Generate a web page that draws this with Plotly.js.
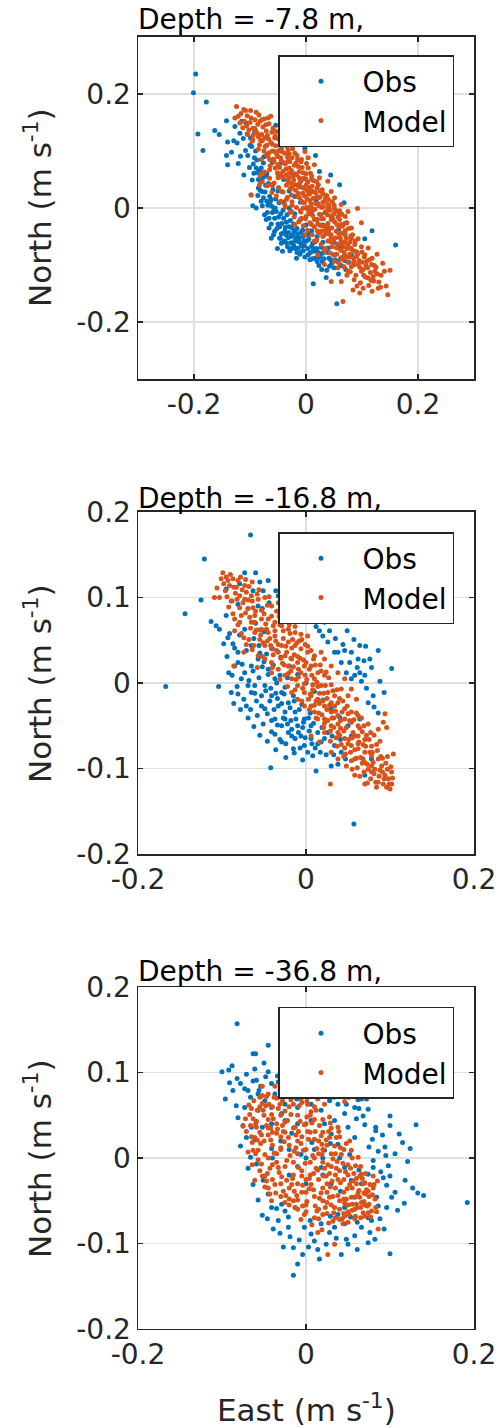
<!DOCTYPE html>
<html>
<head>
<meta charset="utf-8">
<script src="https://cdn.plot.ly/plotly-3.0.1.min.js"></script>
<style>html,body{margin:0;padding:0;background:#fff;}#chart{width:500px;height:1428px;}</style>
</head>
<body>
<div id="chart"></div>
<script>
// ---- data ----
const depthTitles = ['Depth = -7.8 m,', 'Depth = -16.8 m,', 'Depth = -36.8 m,'];
const seriesNames = ['Obs', 'Model'];
const tickVals1 = [-0.2, 0, 0.2];
const tickText1 = ['-0.2', '0', '0.2'];
const tickValsY23 = [-0.2, -0.1, 0, 0.1, 0.2];
const tickTextY23 = ['-0.2', '-0.1', '0', '0.1', '0.2'];

// Panel 1 (Depth -7.8 m): [east, north]
const obs1 = [[-0.197,0.235],[-0.201,0.202],[-0.178,0.186],[-0.193,0.130],[-0.184,0.101],[-0.163,0.136],[-0.155,0.129],[-0.142,0.153],[-0.140,0.116],[-0.142,0.092],[-0.140,0.076],[-0.121,0.078],[-0.123,0.114],[-0.127,0.143],[-0.111,0.058],[-0.096,0.049],[-0.098,0.023],[-0.095,0.004],[-0.089,0.000],[-0.074,-0.012],[-0.071,-0.020],[-0.062,-0.053],[-0.051,-0.071],[-0.042,-0.076],[-0.029,-0.075],[-0.017,-0.088],[-0.005,-0.075],[0.011,-0.089],[0.013,-0.133],[0.036,-0.122],[0.055,-0.168],[0.050,-0.105],[0.069,-0.092],[0.081,-0.082],[0.105,-0.054],[0.118,-0.040],[0.160,-0.065],[0.072,-0.026],[0.068,0.009],[0.060,0.041],[0.044,0.058],[0.024,0.064],[0.017,0.092],[-0.002,0.105],[-0.020,0.123],[-0.038,0.129],[-0.054,0.145],[-0.092,0.132],[-0.107,0.149],[-0.115,0.152],[-0.099,0.123],[-0.092,0.088],[-0.089,0.070],[-0.077,0.053],[-0.079,0.029],[-0.062,0.015],[-0.056,-0.018],[-0.038,-0.041],[-0.020,-0.058],[-0.008,-0.064],[0.015,-0.076],[0.030,-0.079],[-0.056,-0.041],[-0.047,-0.053],[-0.035,-0.061],[-0.026,-0.050],[-0.014,-0.070],[0.001,-0.058],[0.010,-0.067],[0.024,-0.087],[0.042,-0.102],
[-0.070,0.060],[-0.060,0.040],[-0.050,0.030],[-0.040,0.010],[-0.030,0.000],[-0.020,-0.010],[-0.010,-0.020],[0.000,-0.030],[0.010,-0.040],[0.020,-0.050],[0.030,-0.060],[0.040,-0.070],[-0.065,0.020],[-0.055,0.000],[-0.045,-0.010],[-0.035,-0.025],[-0.025,-0.035],[-0.015,-0.045],[-0.005,-0.050],[0.005,-0.055],[0.015,-0.060],[-0.075,0.090],[-0.080,0.070],[-0.085,0.050],[-0.090,0.100],[-0.100,0.110],[-0.105,0.130],[-0.060,0.080],[-0.050,0.060],[-0.040,0.050],[-0.030,0.030],[-0.020,0.020],[0.000,0.000],[0.020,-0.020],[0.040,-0.040],[0.050,-0.060],[0.060,-0.070],[0.030,-0.030],[0.010,-0.010],[-0.010,0.010],
[-0.068,0.005],[-0.060,-0.008],[-0.050,-0.028],[-0.044,-0.045],[-0.032,-0.052],[-0.022,-0.066],[-0.010,-0.078],[0.004,-0.082],[0.020,-0.094],[-0.080,0.012],[-0.085,0.035],[-0.072,0.040],[-0.066,-0.035],[0.058,-0.116],[0.028,-0.108],
[-0.104,0.092],[-0.101,0.071],[-0.097,0.108],[-0.093,0.061],[-0.088,0.084],[-0.086,0.022],[-0.083,0.066],[-0.081,0.047],[-0.078,0.004],[-0.076,0.079],[-0.073,0.028],[-0.071,0.056],[-0.069,-0.008],[-0.067,0.043],[-0.064,0.011],[-0.062,-0.028],[-0.059,0.032],[-0.057,-0.004],[-0.054,0.016],[-0.052,-0.036],[-0.049,-0.016],[-0.048,0.009],[-0.046,-0.053],[-0.043,-0.027],[-0.041,-0.004],[-0.039,-0.058],[-0.037,-0.034],[-0.034,-0.012],[-0.033,-0.068],[-0.031,-0.043],[-0.028,-0.022],[-0.027,-0.061],[-0.024,-0.047],[-0.022,-0.028],[-0.019,-0.071],[-0.018,-0.052],[-0.016,-0.036],[-0.013,-0.059],[-0.011,-0.081],[-0.009,-0.043],[-0.007,-0.067],[-0.004,-0.058],[-0.002,-0.086],[0.003,-0.071],[0.006,-0.046],[0.008,-0.078],[0.012,-0.062],[0.016,-0.088],[0.019,-0.071],[0.023,-0.101],[0.026,-0.082],[0.029,-0.094],[0.033,-0.072],[0.037,-0.109],[0.041,-0.088],[0.046,-0.097],[0.052,-0.091],[0.063,-0.101],[0.071,-0.108],[0.077,-0.095],[-0.118,0.131],[-0.112,0.122],[-0.108,0.101],[-0.129,0.118],[-0.133,0.098],[-0.117,0.091],
[-0.094,0.077],[-0.087,0.062],[-0.082,0.031],[-0.076,0.018],[-0.070,0.012],[-0.066,-0.018],[-0.061,0.003],[-0.058,-0.047],[-0.053,-0.006],[-0.047,-0.033],[-0.044,-0.062],[-0.040,-0.018],[-0.036,-0.047],[-0.030,-0.033],[-0.026,-0.071],[-0.021,-0.041],[-0.016,-0.078],[-0.012,-0.052],[-0.006,-0.039],[-0.003,-0.066],[0.002,-0.047],[0.007,-0.091],[0.013,-0.071],[0.018,-0.058],[0.022,-0.078],[0.027,-0.069],[0.032,-0.089],[0.039,-0.078],[0.044,-0.091],[0.049,-0.082],[0.056,-0.094],[0.062,-0.088],[-0.024,0.058],[-0.012,0.042],[0.006,0.028],[0.018,0.012],[0.034,-0.008],[0.047,-0.018],[0.058,-0.038],[-0.045,0.079]];
const mod1 = [[-0.124,0.178],[-0.111,0.173],[-0.108,0.171],[-0.121,0.161],[-0.127,0.158],[-0.110,0.152],[-0.098,0.158],[-0.089,0.168],[-0.079,0.155],[-0.068,0.158],[-0.059,0.140],[-0.071,0.135],[-0.092,0.140],[-0.104,0.129],[-0.095,0.120],[-0.083,0.111],[-0.074,0.123],[-0.056,0.123],[-0.038,0.123],[-0.026,0.117],[-0.014,0.111],[-0.002,0.099],[0.004,0.088],[-0.008,0.085],[-0.020,0.096],[-0.032,0.102],[-0.044,0.105],[-0.056,0.099],[-0.068,0.091],[-0.080,0.085],[-0.077,0.061],[-0.083,0.041],[-0.098,0.023],[-0.065,0.067],[-0.050,0.076],[-0.032,0.082],[-0.014,0.073],[0.004,0.070],[0.015,0.076],[0.024,0.053],[0.039,0.047],[0.045,0.029],[0.051,0.018],[0.063,0.006],[0.092,-0.001],[0.075,-0.006],[0.057,-0.006],[0.039,0.006],[0.021,0.018],[0.004,0.029],[-0.014,0.041],[-0.032,0.047],[-0.050,0.053],[-0.062,0.041],[-0.044,0.029],[-0.026,0.023],[-0.008,0.012],[0.010,0.000],[0.027,-0.012],[0.045,-0.020],[0.063,-0.029],[0.081,-0.035],[0.099,-0.026],[0.081,-0.053],[0.063,-0.064],[0.045,-0.053],[0.027,-0.041],[0.010,-0.029],[-0.008,-0.018],[-0.026,-0.006],[-0.038,0.006],[-0.020,-0.029],[-0.002,-0.047],[0.015,-0.058],[0.033,-0.076],[0.051,-0.082],[0.069,-0.082],[0.087,-0.076],[0.105,-0.082],[0.111,-0.070],[0.127,-0.081],[0.093,-0.099],[0.075,-0.111],[0.057,-0.105],[0.045,-0.129],[0.063,-0.129],[0.084,-0.144],[0.096,-0.149],[0.111,-0.123],[0.123,-0.111],[0.140,-0.111],[0.150,-0.109],[0.143,-0.137],[0.146,-0.152],[0.066,-0.164],[0.117,-0.099],[0.099,-0.111],[0.033,-0.099],[0.021,-0.082],
[-0.060,0.100],[-0.050,0.090],[-0.040,0.080],[-0.030,0.070],[-0.020,0.060],[-0.010,0.050],[0.000,0.040],[0.010,0.030],[0.020,0.020],[0.030,0.010],[0.040,0.000],[0.050,-0.010],[0.060,-0.020],[0.070,-0.040],[-0.070,0.110],[-0.055,0.070],[-0.045,0.060],[-0.035,0.040],[-0.025,0.035],[-0.015,0.020],[-0.005,0.000],[0.005,-0.010],[0.015,-0.020],[0.025,-0.030],[0.035,-0.045],[0.045,-0.060],[0.055,-0.070],[0.065,-0.090],[0.075,-0.095],[0.085,-0.100],[-0.065,0.085],[-0.075,0.100],[-0.085,0.125],[-0.095,0.140],[-0.100,0.150],[-0.045,0.110],[-0.030,0.095],[-0.015,0.085],[0.000,0.060],[0.010,0.050],[0.020,0.035],[0.030,0.025],[0.040,0.015],[0.050,0.005],[0.060,-0.005],[0.070,-0.015],[-0.035,0.015],[-0.025,0.005],[-0.010,-0.005],[0.000,-0.015],[0.020,-0.040],[0.030,-0.050],[0.040,-0.040],[0.060,-0.045],[0.070,-0.060],[0.080,-0.070],[0.090,-0.085],[0.100,-0.095],[0.110,-0.105],[0.120,-0.120],[0.130,-0.130],
[-0.087,0.131],[-0.081,0.119],[-0.077,0.142],[-0.073,0.108],[-0.069,0.127],[-0.066,0.097],[-0.063,0.115],[-0.061,0.133],[-0.058,0.086],[-0.054,0.109],[-0.052,0.094],[-0.049,0.121],[-0.047,0.071],[-0.045,0.088],[-0.043,0.099],[-0.041,0.064],[-0.039,0.112],[-0.037,0.077],[-0.035,0.058],[-0.033,0.089],[-0.031,0.052],[-0.029,0.081],[-0.027,0.043],[-0.026,0.066],[-0.024,0.104],[-0.022,0.049],[-0.021,0.075],[-0.019,0.031],[-0.017,0.058],[-0.016,0.092],[-0.013,0.037],[-0.012,0.064],[-0.011,0.018],[-0.009,0.047],[-0.007,0.071],[-0.006,0.026],[-0.004,0.052],[-0.003,0.009],[-0.001,0.033],[0.001,0.078],[0.002,0.016],[0.003,0.045],[0.005,-0.004],[0.006,0.024],[0.008,0.061],[0.009,0.007],[0.011,0.038],[0.012,-0.013],[0.013,0.017],[0.014,0.048],[0.016,-0.002],[0.017,0.027],[0.019,-0.021],[0.021,0.008],[0.022,0.041],[0.024,-0.011],[0.025,0.019],[0.027,-0.031],[0.028,0.001],[0.029,0.032],[0.031,-0.019],[0.033,0.012],[0.034,-0.038],[0.036,-0.006],[0.037,0.022],[0.039,-0.027],[0.041,0.004],[0.042,-0.046],[0.044,-0.014],[0.046,-0.035],[0.047,0.011],[0.049,-0.057],[0.051,-0.024],[0.052,-0.003],[0.054,-0.041],[0.056,-0.063],[0.057,-0.016],[0.059,-0.033],[0.061,-0.052],[0.062,-0.074],[0.064,-0.011],[0.066,-0.044],[0.067,-0.068],[0.069,-0.027],[0.071,-0.087],[0.072,-0.053],[0.074,-0.071],[0.076,-0.036],[0.078,-0.081],[0.079,-0.059],[0.081,-0.103],[0.083,-0.047],[0.085,-0.088],[0.087,-0.064],[0.089,-0.118],[0.091,-0.077],[0.093,-0.054],[0.095,-0.092],[0.097,-0.131],[0.099,-0.068],[0.102,-0.108],[0.104,-0.086],[0.106,-0.121],[0.108,-0.094],[0.112,-0.136],[0.115,-0.113],[0.118,-0.088],[0.121,-0.128],[0.125,-0.104],[0.129,-0.141],[0.134,-0.118],[0.137,-0.097],
[-0.116,0.166],[-0.113,0.141],[-0.105,0.162],[-0.102,0.137],[-0.099,0.171],[-0.094,0.128],[-0.091,0.155],[-0.086,0.147],[-0.084,0.163],[-0.079,0.129],[-0.075,0.156],[-0.066,0.148],[-0.063,0.161],[-0.053,0.134],[-0.046,0.129],
[-0.118,0.149],[-0.106,0.144],[-0.096,0.117],[-0.090,0.136],[-0.085,0.103],[-0.082,0.152],[-0.078,0.118],[-0.072,0.146],[-0.070,0.094],[-0.067,0.121],[-0.064,0.074],[-0.060,0.112],[-0.057,0.081],[-0.055,0.126],[-0.051,0.062],[-0.048,0.101],[-0.044,0.083],[-0.042,0.054],[-0.038,0.096],[-0.036,0.068],[-0.034,0.108],[-0.030,0.061],[-0.028,0.034],[-0.025,0.088],[-0.023,0.056],[-0.020,0.041],[-0.018,0.079],[-0.014,0.026],[-0.012,0.053],[-0.009,0.081],[-0.007,0.036],[-0.005,0.062],[-0.002,0.021],[0.000,0.051],[0.003,0.001],[0.005,0.036],[0.007,0.013],[0.010,0.056],[0.012,-0.004],[0.014,0.028],[0.017,0.008],[0.019,0.046],[0.021,-0.028],[0.023,0.004],[0.026,0.029],[0.028,-0.019],[0.031,0.002],[0.033,-0.032],[0.035,0.018],[0.038,-0.012],[0.040,-0.034],[0.043,-0.004],[0.045,-0.047],[0.048,-0.021],[0.050,0.002],[0.053,-0.052],[0.055,-0.029],[0.058,-0.044],[0.060,-0.012],[0.063,-0.058],[0.065,-0.032],[0.068,-0.077],[0.070,-0.047],[0.073,-0.026],[0.075,-0.064],[0.077,-0.086],[0.080,-0.049],[0.082,-0.073],[0.086,-0.094],[0.088,-0.058],[0.092,-0.081],[0.096,-0.104],[0.100,-0.077],[0.103,-0.118],[0.107,-0.101],[0.113,-0.091],[0.116,-0.127],[0.122,-0.101],[0.127,-0.116],[0.133,-0.139],
[-0.082,0.058],[-0.078,0.046],[-0.074,0.063],[-0.069,0.039],[-0.065,0.052],[-0.061,0.027],[-0.057,0.044],[-0.053,0.021],[-0.049,0.036],[-0.045,0.012],[-0.041,0.028],[-0.037,0.002],[-0.033,0.019],[-0.029,-0.008],[-0.025,0.011],[-0.021,-0.016],[-0.017,0.001],[-0.013,-0.024],[-0.009,-0.007],[-0.005,-0.031],[-0.001,-0.019],[0.003,-0.039],[0.007,-0.026],[0.011,-0.047],[0.015,-0.033],[0.019,-0.056],[0.023,-0.044],[0.027,-0.064],[0.031,-0.049],[0.035,-0.071],[0.039,-0.058],[0.043,-0.079],[0.047,-0.068],[0.051,-0.093],[0.055,-0.081],[0.059,-0.097],[0.064,-0.087],[0.068,-0.103],[0.073,-0.118],[0.079,-0.112],[0.086,-0.126],[0.091,-0.137],[0.102,-0.141],[0.118,-0.146]];

// Panel 2 (Depth -16.8 m)
const obs2 = [[-0.066,0.173],[-0.121,0.145],[-0.125,0.097],[-0.144,0.081],[-0.167,-0.004],[-0.104,-0.004],[-0.113,0.072],[-0.107,0.067],[-0.103,0.063],[-0.095,0.079],[-0.093,0.053],[-0.087,0.046],[-0.081,0.036],[-0.085,0.020],[-0.077,0.005],[-0.089,-0.011],[-0.081,-0.013],[-0.071,-0.027],[-0.065,-0.011],[-0.061,-0.003],[-0.049,-0.030],[-0.041,-0.044],[-0.037,-0.060],[-0.029,-0.069],[-0.025,-0.042],[-0.017,-0.054],[-0.015,-0.077],[-0.006,-0.062],[-0.004,-0.090],[-0.042,-0.099],[0.008,-0.085],[0.012,-0.103],[0.017,-0.081],[0.030,-0.097],[0.038,-0.095],[0.057,-0.165],[0.070,-0.108],[0.078,-0.089],[0.086,-0.035],[0.080,-0.015],[0.088,0.002],[0.102,0.017],[0.071,0.043],[0.070,0.009],[0.062,0.028],[0.054,0.036],[0.048,0.012],[0.046,0.038],[0.038,0.036],[0.026,0.048],[0.020,0.055],[0.016,0.061],[0.022,0.071],[0.015,0.081],[0.055,0.078],[0.008,0.090],[-0.010,0.073],[-0.025,0.075],[-0.033,0.102],[-0.045,0.120],[-0.051,0.108],[-0.060,0.129],[-0.073,0.129],[-0.079,0.116],[-0.095,0.110],[-0.089,0.096],[-0.081,0.092],[-0.069,0.087],[-0.063,0.108],[-0.055,0.118],[-0.057,0.090],[-0.073,0.063],[-0.065,0.044],[-0.057,0.028],[-0.045,0.016],[-0.037,0.005],[-0.029,-0.011],[-0.021,-0.023],[-0.013,-0.034],[-0.002,-0.042],[0.006,-0.050],[0.014,-0.058],[0.022,-0.065],[0.034,-0.073],[0.042,-0.081],[0.054,-0.062],[0.064,-0.042],[0.074,-0.023],[0.054,0.005],[0.042,0.024],[0.034,0.036],[0.086,0.038],[0.078,0.018],[0.058,0.009],[-0.049,-0.003],[-0.041,-0.015],[-0.033,-0.027],[-0.025,-0.034],[-0.053,-0.015],[-0.059,-0.021],[-0.069,-0.003],[-0.073,0.012],[-0.081,0.024],[-0.037,-0.042],[-0.029,-0.050],[-0.021,-0.058],[-0.013,-0.065],[-0.010,-0.050],[-0.002,-0.073],[0.006,-0.065],
[-0.040,0.040],[-0.030,0.030],[-0.020,0.020],[-0.010,0.010],[0.000,0.000],[0.010,-0.010],[0.020,-0.020],[0.030,-0.030],[-0.050,0.060],[-0.060,0.070],[0.040,-0.040],[0.050,-0.050],[-0.045,0.010],[-0.035,0.000],[-0.025,-0.005],[-0.015,-0.015],[-0.005,-0.025],[0.005,-0.035],[-0.055,0.035],[-0.065,0.020],[-0.050,0.025],
[-0.094,0.031],[-0.091,0.058],[-0.088,0.009],[-0.085,0.041],[-0.082,-0.004],[-0.079,0.056],[-0.076,0.022],[-0.074,-0.019],[-0.071,0.038],[-0.068,0.003],[-0.066,-0.031],[-0.063,0.014],[-0.061,-0.012],[-0.058,-0.038],[-0.056,0.006],[-0.053,-0.027],[-0.051,-0.048],[-0.048,-0.009],[-0.046,-0.036],[-0.043,-0.021],[-0.041,-0.057],[-0.038,-0.031],[-0.036,-0.012],[-0.034,-0.049],[-0.031,-0.066],[-0.029,-0.024],[-0.027,-0.041],[-0.024,-0.071],[-0.022,-0.048],[-0.019,-0.029],[-0.017,-0.062],[-0.014,-0.082],[-0.012,-0.042],[-0.009,-0.058],[-0.007,-0.076],[-0.004,-0.052],[-0.001,-0.064],[0.002,-0.081],[0.004,-0.056],[0.007,-0.071],[0.011,-0.076],[0.018,-0.069],[0.024,-0.084],[0.031,-0.062],[-0.052,0.087],[-0.044,0.094],[-0.036,0.108],[-0.028,0.088],[-0.016,0.081],[-0.004,0.086],[0.012,0.066],[0.028,0.061],[0.035,0.052],[0.044,0.045],[0.052,0.024],[0.061,0.018],[0.066,0.002],[0.072,-0.006],[0.081,-0.028],[0.064,0.012],[0.093,-0.011],[0.076,0.028],
[-0.062,0.052],[-0.056,0.044],[-0.052,0.019],[-0.047,0.034],[-0.042,-0.006],[-0.039,0.021],[-0.034,-0.018],[-0.031,0.009],[-0.026,-0.013],[-0.022,0.006],[-0.018,-0.044],[-0.014,-0.021],[-0.008,-0.031],[-0.003,-0.046],[0.003,-0.041],[0.009,-0.047],[0.014,-0.071],[0.019,-0.052],[0.026,-0.058],[0.033,-0.084],[0.041,-0.066],[0.047,-0.089],[-0.098,0.046],[-0.092,0.012],[-0.086,-0.024],[-0.078,-0.031],[-0.069,-0.041],[-0.062,-0.051],[-0.055,-0.061],[-0.046,-0.068],[-0.036,-0.078],[-0.024,-0.087],[0.064,0.044],[0.069,0.026],[0.057,0.051],[0.049,0.061]];
const mod2 = [[-0.099,0.129],[-0.095,0.124],[-0.101,0.122],[-0.093,0.120],[-0.087,0.122],[-0.081,0.120],[-0.083,0.112],[-0.073,0.114],[-0.109,0.100],[-0.103,0.100],[-0.079,0.102],[-0.073,0.098],[-0.065,0.102],[-0.057,0.098],[-0.049,0.100],[-0.041,0.090],[-0.033,0.094],[-0.069,0.087],[-0.077,0.079],[-0.085,0.075],[-0.061,0.079],[-0.053,0.075],[-0.045,0.075],[-0.037,0.071],[-0.029,0.067],[-0.021,0.063],[-0.013,0.059],[-0.006,0.057],[0.002,0.055],[-0.074,0.053],[-0.061,0.059],[-0.055,0.051],[-0.049,0.044],[-0.041,0.040],[-0.033,0.036],[-0.025,0.032],[-0.017,0.028],[-0.010,0.024],[-0.002,0.020],[0.006,0.020],[0.014,0.012],[0.022,0.009],[0.022,0.028],[0.030,0.020],[0.038,0.012],[0.046,0.005],[0.042,-0.007],[0.054,-0.007],[0.050,-0.015],[0.060,-0.019],[-0.041,0.024],[-0.033,0.016],[-0.025,0.009],[-0.017,0.005],[-0.010,-0.003],[-0.002,-0.011],[0.006,-0.015],[0.014,-0.019],[0.022,-0.027],[0.030,-0.034],[0.038,-0.038],[0.046,-0.042],[0.054,-0.046],[0.062,-0.050],[0.069,-0.050],[0.077,-0.058],[0.086,-0.054],[0.094,-0.036],[0.092,-0.046],[0.096,-0.052],[0.022,-0.042],[0.030,-0.050],[0.038,-0.058],[0.046,-0.065],[0.054,-0.073],[0.062,-0.077],[0.070,-0.081],[0.078,-0.085],[0.086,-0.089],[0.090,-0.097],[0.078,-0.097],[0.070,-0.093],[0.058,-0.089],[0.048,-0.097],[0.038,-0.089],[0.030,-0.081],[0.029,-0.118],[0.070,-0.118],[0.086,-0.116],[0.096,-0.122],[0.100,-0.124],[0.102,-0.118],[0.102,-0.104],[0.104,-0.083],[0.094,-0.108],[0.081,-0.106],[0.058,-0.108],[-0.086,0.020],[0.016,-0.069],[0.006,-0.062],[0.022,-0.058],[-0.002,-0.027],[-0.010,-0.019],[-0.017,-0.011],[0.010,-0.034],[0.014,-0.042],[0.006,-0.027],[-0.021,0.020],[-0.029,0.044],[-0.021,0.048],[-0.013,0.044],[-0.006,0.040],[0.002,0.036],[0.010,0.032],[0.018,0.036],[0.010,0.005],[0.018,-0.003],[0.026,-0.011],[0.034,-0.015],[0.038,-0.023],[0.030,-0.023],[0.046,-0.030],[0.054,-0.034],[0.062,-0.038],[0.070,-0.066],[0.078,-0.074],[0.062,-0.062],[-0.045,0.059],[-0.037,0.055],[-0.053,0.063],[-0.065,0.071],[-0.057,0.032],[-0.049,0.028],[-0.041,0.012],
[-0.096,0.108],[-0.091,0.114],[-0.088,0.096],[-0.084,0.105],[-0.079,0.088],[-0.076,0.109],[-0.072,0.082],[-0.069,0.097],[-0.066,0.064],[-0.063,0.088],[-0.061,0.071],[-0.058,0.104],[-0.055,0.062],[-0.053,0.085],[-0.051,0.047],[-0.048,0.069],[-0.046,0.091],[-0.043,0.052],[-0.041,0.078],[-0.039,0.033],[-0.037,0.061],[-0.035,0.084],[-0.033,0.045],[-0.031,0.068],[-0.028,0.023],[-0.027,0.052],[-0.025,0.074],[-0.023,0.036],[-0.021,0.011],[-0.019,0.058],[-0.017,0.041],[-0.015,0.019],[-0.013,0.066],[-0.012,0.004],[-0.010,0.031],[-0.008,0.049],[-0.006,0.012],[-0.004,-0.006],[-0.003,0.027],[-0.001,0.045],[0.001,0.004],[0.003,-0.019],[0.004,0.016],[0.006,0.038],[0.008,-0.008],[0.010,-0.026],[0.011,0.021],[0.013,0.001],[0.015,-0.035],[0.016,-0.012],[0.018,0.014],[0.020,-0.021],[0.022,-0.047],[0.023,-0.003],[0.025,-0.031],[0.027,0.006],[0.029,-0.056],[0.031,-0.041],[0.032,-0.009],[0.034,-0.027],[0.036,-0.064],[0.038,-0.048],[0.040,-0.018],[0.042,-0.072],[0.043,-0.034],[0.045,-0.056],[0.047,-0.083],[0.049,-0.027],[0.051,-0.066],[0.052,-0.044],[0.054,-0.091],[0.056,-0.058],[0.058,-0.078],[0.060,-0.035],[0.061,-0.099],[0.063,-0.069],[0.065,-0.087],[0.067,-0.057],[0.069,-0.104],[0.071,-0.074],[0.073,-0.095],[0.075,-0.066],[0.077,-0.112],[0.079,-0.081],[0.082,-0.101],[0.084,-0.072],[0.087,-0.109],[0.089,-0.086],[0.092,-0.118],[0.095,-0.094],[0.098,-0.112],[0.101,-0.098],[-0.072,0.121],[-0.068,0.113],[-0.064,0.118],[-0.087,0.081],[-0.081,0.068],[-0.077,0.058],[-0.071,0.045],[-0.064,0.039],[-0.058,0.018],[0.066,-0.041],[0.074,-0.048],[0.081,-0.061],[0.088,-0.068],
[-0.098,0.116],[-0.094,0.101],[-0.090,0.127],[-0.086,0.112],[-0.082,0.098],[-0.078,0.124],[-0.075,0.094],[-0.071,0.106],[-0.067,0.077],[-0.064,0.096],[-0.060,0.084],[-0.056,0.109],[-0.054,0.056],[-0.050,0.081],[-0.047,0.063],[-0.044,0.101],[-0.042,0.044],[-0.039,0.067],[-0.036,0.049],[-0.032,0.078],[-0.030,0.029],[-0.027,0.061],[-0.024,0.043],[-0.020,0.068],[-0.018,0.014],[-0.016,0.051],[-0.014,0.033],[-0.011,0.047],[-0.009,0.007],[-0.007,0.029],[-0.005,0.051],[-0.002,-0.001],[0.000,0.024],[0.002,0.043],[0.005,-0.013],[0.007,0.009],[0.009,0.028],[0.012,-0.021],[0.014,-0.004],[0.017,0.021],[0.019,-0.037],[0.021,-0.012],[0.024,0.013],[0.026,-0.044],[0.028,-0.026],[0.030,-0.002],[0.033,-0.052],[0.035,-0.033],[0.037,-0.008],[0.040,-0.061],[0.041,-0.044],[0.044,-0.021],[0.046,-0.076],[0.048,-0.052],[0.050,-0.036],[0.053,-0.081],[0.055,-0.064],[0.057,-0.043],[0.060,-0.088],[0.062,-0.071],[0.064,-0.053],[0.067,-0.094],[0.068,-0.072],[0.072,-0.061],[0.074,-0.101],[0.076,-0.081],[0.080,-0.093],[0.083,-0.116],[0.085,-0.079],[0.088,-0.102],[0.091,-0.088],[0.093,-0.112],[0.097,-0.101],[0.099,-0.118],
[-0.106,0.111],[-0.092,0.089],[-0.085,0.061],[-0.079,0.071],[-0.074,0.036],[-0.068,0.051],[-0.062,0.044],[-0.059,0.062],[-0.052,0.031],[-0.046,0.049],[-0.040,0.018],[-0.035,0.038],[-0.031,0.004],[-0.026,0.021],[-0.022,-0.004],[-0.018,0.029],[-0.013,-0.008],[-0.009,0.016],[-0.005,-0.021],[-0.001,0.009],[0.004,-0.031],[0.008,-0.002],[0.012,-0.041],[0.016,-0.024],[0.021,-0.052],[0.025,-0.018],[0.029,-0.068],[0.033,-0.041],[0.037,-0.074],[0.041,-0.053],[0.045,-0.086],[0.050,-0.071],[0.055,-0.101],[0.059,-0.062],[0.064,-0.109],[0.068,-0.089],[0.073,-0.117],[0.078,-0.104],[0.084,-0.122],[0.091,-0.104],[0.097,-0.086],[0.103,-0.111]];

// Panel 3 (Depth -36.8 m)
const obs3 = [[-0.082,0.157],[-0.045,0.132],[-0.063,0.122],[-0.060,0.122],[-0.050,0.111],[-0.088,0.108],[-0.092,0.103],[-0.100,0.101],[-0.082,0.093],[-0.063,0.090],[-0.059,0.091],[-0.045,0.101],[-0.096,0.069],[-0.083,0.061],[-0.073,0.081],[-0.069,0.079],[-0.057,0.075],[-0.049,0.067],[-0.037,0.075],[-0.029,0.083],[-0.021,0.075],[-0.013,0.079],[-0.006,0.075],[0.002,0.071],[0.014,0.075],[0.022,0.083],[0.030,0.079],[0.038,0.081],[0.046,0.079],[0.058,0.077],[0.070,0.085],[0.066,0.069],[0.072,0.069],[0.058,0.059],[0.048,0.063],[0.038,0.063],[0.028,0.067],[-0.073,0.059],[-0.075,0.038],[-0.071,0.024],[-0.066,0.001],[-0.059,-0.007],[-0.052,-0.067],[-0.039,-0.083],[-0.027,-0.104],[-0.015,-0.105],[-0.015,-0.137],[-0.010,-0.124],[-0.004,-0.113],[0.006,-0.089],[0.010,-0.097],[0.016,-0.118],[0.014,-0.107],[0.028,-0.087],[0.042,-0.113],[0.050,-0.101],[0.048,-0.095],[0.074,-0.099],[0.082,-0.095],[0.100,-0.112],[0.076,-0.087],[0.078,-0.073],[0.074,-0.070],[0.086,-0.056],[0.096,-0.058],[0.106,-0.040],[0.117,-0.053],[0.133,-0.041],[0.140,-0.044],[0.192,-0.052],[0.096,-0.032],[0.100,-0.021],[0.092,-0.023],[0.095,0.003],[0.106,0.005],[0.121,-0.004],[0.115,0.018],[0.131,0.039],[0.100,0.038],[0.100,0.049],[0.094,0.013],[0.083,0.036],[0.083,0.032],[0.075,0.013],[0.070,0.039],[0.080,-0.003],[0.080,-0.011],[0.084,-0.046],[0.071,-0.041],[0.066,-0.030],[0.058,0.024],[0.050,0.036],[0.060,0.046],[0.046,0.052],[0.034,0.044],[0.030,0.028],[0.038,0.016],[0.022,0.009],[-0.029,-0.054],[-0.025,-0.062],[-0.013,-0.058],[0.038,-0.066],[0.046,-0.077],[0.034,-0.081],[0.018,-0.077],[-0.002,-0.081],[-0.021,-0.081],[-0.033,-0.073],[-0.041,-0.058],[-0.045,-0.042],[-0.051,-0.026],[-0.061,0.021],[-0.065,0.036],[-0.057,0.056],[-0.041,0.059],[-0.025,0.063],[-0.010,0.059],[0.006,0.063],[0.018,0.056],[0.022,0.040],[0.006,0.044],[-0.010,0.040],[-0.025,0.044],[-0.041,0.040],[0.046,-0.058],[0.058,-0.046],[0.054,-0.026],[0.046,-0.011],[0.074,-0.019],
[0.000,0.000],[-0.020,0.010],[0.020,-0.020],[-0.030,0.020],[0.030,-0.030],[0.010,0.010],[-0.010,-0.010],[0.000,-0.030],[0.020,0.000],[-0.020,-0.020],[-0.040,0.000],[0.040,0.000],
[-0.078,0.087],[-0.071,0.098],[-0.066,0.071],[-0.061,0.104],[-0.054,0.084],[-0.048,0.095],[-0.041,0.087],[-0.034,0.096],[-0.027,0.071],[-0.019,0.089],[-0.011,0.069],[-0.003,0.091],[0.004,0.081],[0.011,0.087],[0.018,0.072],[0.026,0.091],[0.033,0.071],[0.041,0.088],[0.051,0.071],[0.056,0.089],[0.063,0.058],[0.068,0.049],[0.074,0.057],[0.079,0.022],[0.086,0.008],[0.089,-0.016],[0.091,0.027],[0.098,-0.009],[0.102,-0.046],[0.109,-0.061],[0.088,-0.071],[0.093,-0.083],[0.066,-0.081],[0.058,-0.091],[0.061,-0.107],[0.036,-0.094],[0.024,-0.101],[0.003,-0.104],[-0.008,-0.096],[-0.019,-0.092],[-0.031,-0.088],[-0.046,-0.071],[-0.057,-0.049],[-0.063,-0.031],[-0.069,-0.012],[-0.078,0.014],[-0.081,0.047],[-0.087,0.079],[-0.091,0.088],[0.111,0.028],[0.124,0.011],[0.118,-0.026],[0.127,-0.035],
[-0.052,0.036],[-0.041,0.011],[-0.029,0.052],[-0.017,0.029],[-0.006,0.004],[0.007,0.018],[0.018,-0.011],[0.029,0.017],[0.041,-0.039],[0.052,0.004],[0.063,-0.014],[-0.035,-0.059],[-0.021,-0.069],[0.005,-0.073],[0.029,-0.068],[0.053,-0.069],[0.061,-0.075],[-0.056,0.079],[-0.033,0.089],[0.009,0.076],[0.049,0.083],[0.062,0.068]];
const mod3 = [[-0.075,0.037],[-0.065,0.058],[-0.052,0.073],[-0.052,0.084],[-0.045,0.075],[-0.037,0.084],[-0.025,0.076],[-0.013,0.075],[-0.006,0.069],[0.002,0.063],[0.012,0.056],[0.022,0.063],[0.028,0.048],[0.046,0.066],[0.038,0.036],[0.052,0.020],[0.054,0.009],[0.062,0.001],[0.066,-0.019],[0.080,-0.021],[0.070,-0.029],[0.071,-0.042],[0.060,-0.054],[0.074,-0.064],[0.086,-0.083],[0.044,-0.077],[0.034,-0.101],[0.026,-0.113],[0.014,-0.087],[-0.002,-0.066],[-0.013,-0.058],[-0.025,-0.052],[-0.041,-0.050],[-0.043,-0.042],[-0.049,-0.034],[-0.049,-0.021],[-0.053,-0.007],[-0.057,0.009],[-0.061,0.024],[-0.059,0.036],[-0.063,0.046],
[-0.050,0.050],[-0.040,0.060],[-0.030,0.050],[-0.020,0.060],[-0.010,0.050],[0.000,0.040],[0.010,0.045],[0.020,0.030],[-0.045,0.035],[-0.035,0.040],[-0.025,0.030],[-0.015,0.035],[-0.005,0.025],[0.005,0.030],[0.015,0.020],[0.025,0.015],[0.035,0.005],[-0.050,0.020],[-0.040,0.015],[-0.030,0.010],[-0.020,0.015],[-0.010,0.005],[0.000,0.010],[0.010,0.000],[0.020,-0.005],[0.030,-0.010],[0.040,-0.015],[0.050,-0.020],[-0.045,0.000],[-0.035,-0.005],[-0.025,-0.010],[-0.015,-0.005],[-0.005,-0.015],[0.005,-0.020],[0.015,-0.025],[0.025,-0.030],[0.035,-0.035],[0.045,-0.040],[0.055,-0.035],[-0.040,-0.025],[-0.030,-0.030],[-0.020,-0.035],[-0.010,-0.030],[0.000,-0.040],[0.010,-0.045],[0.020,-0.050],[0.030,-0.055],[0.040,-0.060],[0.050,-0.055],[0.060,-0.045],[-0.030,-0.045],[-0.015,-0.050],[0.000,-0.055],[0.015,-0.060],[0.025,-0.065],[0.035,-0.070],[0.045,-0.065],[0.060,-0.030],[0.065,-0.010],[0.055,0.000],[0.045,0.010],[0.040,0.025],[0.030,0.035],[0.020,0.045],[0.010,0.060],[-0.005,0.065],[-0.020,0.075],[-0.035,0.070],[-0.055,0.060],[-0.060,0.040],[-0.065,0.025],[-0.060,0.005],[-0.055,-0.015],[-0.045,-0.035],[0.075,-0.045],[0.070,-0.055],[0.080,-0.035],[0.065,-0.070],[0.050,-0.075],[0.010,-0.070],[-0.010,-0.060],[-0.020,-0.055],[0.030,0.005],[0.000,-0.025],[-0.010,0.020],[0.020,0.010],[-0.030,0.025],[0.005,0.050],[-0.025,0.055],[0.035,-0.020],[0.045,-0.025],[0.025,-0.040],[-0.005,-0.040],[0.015,0.005],[-0.035,0.005],[-0.045,0.045],[-0.055,0.030],[0.012,-0.012],[-0.012,0.012],[0.028,-0.018],[-0.028,0.038],[0.048,-0.048],[0.058,-0.060],[0.068,-0.030],[0.040,-0.050],[-0.015,-0.020],[0.005,-0.005],[-0.040,0.030],[0.020,-0.035],[0.032,-0.045],
[-0.067,0.051],[-0.064,0.018],[-0.062,0.067],[-0.059,0.043],[-0.057,-0.002],[-0.055,0.071],[-0.053,0.027],[-0.051,0.056],[-0.049,0.004],[-0.047,0.038],[-0.046,-0.018],[-0.044,0.063],[-0.042,0.021],[-0.040,-0.008],[-0.039,0.046],[-0.037,-0.031],[-0.035,0.029],[-0.033,0.058],[-0.032,-0.017],[-0.030,0.012],[-0.028,0.067],[-0.027,-0.039],[-0.025,0.042],[-0.023,-0.003],[-0.021,0.024],[-0.020,-0.048],[-0.018,0.051],[-0.016,-0.024],[-0.014,0.008],[-0.013,0.036],[-0.011,-0.044],[-0.009,-0.011],[-0.008,0.061],[-0.006,0.017],[-0.004,-0.032],[-0.002,0.039],[-0.001,-0.006],[0.001,-0.051],[0.003,0.022],[0.004,-0.024],[0.006,0.054],[0.008,0.003],[0.009,-0.037],[0.011,0.031],[0.013,-0.062],[0.014,-0.014],[0.016,0.038],[0.018,-0.041],[0.019,0.016],[0.021,-0.021],[0.023,-0.058],[0.024,0.021],[0.026,-0.008],[0.028,-0.046],[0.029,0.041],[0.031,-0.027],[0.033,-0.064],[0.034,0.014],[0.036,-0.012],[0.038,-0.044],[0.039,0.031],[0.041,-0.029],[0.043,-0.071],[0.044,-0.006],[0.046,-0.053],[0.048,0.017],[0.049,-0.036],[0.051,-0.066],[0.053,-0.012],[0.054,-0.046],[0.056,-0.027],[0.058,-0.071],[0.059,-0.009],[0.061,-0.058],[0.063,-0.038],[0.064,-0.021],[0.066,-0.052],[0.068,-0.064],[0.069,-0.041],[0.071,-0.018],[0.073,-0.056],[0.076,-0.031],[0.078,-0.062],[0.082,-0.048],[0.085,-0.027],[0.007,-0.078],[0.019,-0.084],[-0.006,-0.072],[0.027,-0.076],[-0.031,0.079],[-0.013,0.072],[0.001,0.066],[0.014,0.069],[-0.047,0.072],[-0.061,-0.026],[-0.071,0.031],[-0.069,0.007],
[-0.066,0.038],[-0.063,0.009],[-0.058,0.056],[-0.054,0.017],[-0.052,-0.021],[-0.048,0.061],[-0.045,0.027],[-0.043,-0.012],[-0.041,0.051],[-0.038,0.006],[-0.036,-0.041],[-0.034,0.034],[-0.031,0.063],[-0.029,-0.022],[-0.026,0.019],[-0.024,-0.044],[-0.022,0.044],[-0.019,0.003],[-0.017,-0.031],[-0.015,0.063],[-0.012,0.027],[-0.010,-0.049],[-0.007,0.043],[-0.005,-0.021],[-0.003,0.009],[0.000,-0.063],[0.002,0.031],[0.004,-0.036],[0.007,0.041],[0.009,-0.018],[0.011,-0.056],[0.013,0.011],[0.016,-0.047],[0.018,0.026],[0.020,-0.066],[0.022,-0.012],[0.025,-0.052],[0.027,0.031],[0.029,-0.034],[0.032,-0.001],[0.034,-0.058],[0.036,0.024],[0.038,-0.025],[0.040,-0.072],[0.042,0.004],[0.045,-0.048],[0.047,-0.016],[0.050,-0.063],[0.052,-0.031],[0.055,-0.054],[0.057,-0.018],[0.059,-0.068],[0.062,-0.041],[0.065,-0.058],[0.067,-0.024],[0.070,-0.068],[0.072,-0.037],[0.075,-0.054],[0.079,-0.043],[0.083,-0.058],
[-0.072,0.046],[-0.068,0.062],[-0.064,-0.008],[-0.058,0.021],[-0.052,0.064],[-0.047,-0.027],[-0.042,0.035],[-0.038,0.071],[-0.033,-0.011],[-0.027,0.031],[-0.023,-0.026],[-0.018,0.068],[-0.014,-0.039],[-0.009,0.031],[-0.004,-0.056],[0.001,0.048],[0.006,-0.031],[0.010,0.022],[0.015,-0.071],[0.019,0.004],[0.024,-0.021],[0.028,0.024],[0.032,-0.074],[0.037,-0.004],[0.041,0.012],[0.046,-0.068],[0.050,-0.008],[0.055,-0.061],[0.060,-0.024],[0.064,-0.046],[0.069,-0.051],[0.074,-0.039],[0.077,-0.069],[0.081,-0.031],[0.084,-0.063]];

// ---- figure ----
const BLUE = '#0072BD', ORANGE = '#D95319', INK = '#262626';
const panels = [
  {obs: obs1, mod: mod1, xs: '', range: [-0.3, 0.3], yv: tickVals1, yt: tickText1, dom: [0.73459, 0.97409]},
  {obs: obs2, mod: mod2, xs: '2', range: [-0.2, 0.2], yv: tickValsY23, yt: tickTextY23, dom: [0.40196, 0.64146]},
  {obs: obs3, mod: mod3, xs: '3', range: [-0.2, 0.2], yv: tickValsY23, yt: tickTextY23, dom: [0.06933, 0.30882]}
];
const legendTops = [0.96148, 0.62745, 0.29482];
const titleCenters = [20, 498, 971];
const ylabelCenters = [208, 684, 1159];

const traces = [];
const layout = {
  width: 500, height: 1428,
  margin: {l: 0, r: 0, t: 0, b: 0},
  paper_bgcolor: '#ffffff', plot_bgcolor: '#ffffff',
  font: {family: 'DejaVu Sans', color: INK, size: 28},
  showlegend: true,
  annotations: []
};
function axisStyle(extra) {
  return Object.assign({
    showline: true, linecolor: INK, linewidth: 1.5, mirror: 'ticks',
    ticks: 'inside', ticklen: 5, tickwidth: 1.2, tickcolor: INK,
    showgrid: true, gridcolor: '#dfdfdf', gridwidth: 1.5, zeroline: false,
    tickfont: {family: 'DejaVu Sans', size: 28, color: INK},
    tickmode: 'array', fixedrange: true
  }, extra);
}
panels.forEach((p, i) => {
  const ax = 'x' + p.xs, ay = 'y' + p.xs;
  const lg = i === 0 ? 'legend' : 'legend' + (i + 1);
  [[p.obs, BLUE, seriesNames[0]], [p.mod, ORANGE, seriesNames[1]]].forEach(([d, c, n]) => {
    traces.push({
      type: 'scatter', mode: 'markers', name: n,
      x: d.map(v => v[0]), y: d.map(v => v[1]),
      xaxis: ax, yaxis: ay, legend: lg,
      marker: {color: c, size: 5, line: {width: 0}},
      hoverinfo: 'skip', cliponaxis: true
    });
  });
  layout['xaxis' + p.xs] = axisStyle({domain: [0.276, 0.948], range: p.range, anchor: ay,
    tickvals: tickVals1, ticktext: tickText1});
  layout['yaxis' + p.xs] = axisStyle({domain: p.dom, range: p.range, anchor: ax,
    tickvals: p.yv, ticktext: p.yt});
  layout[lg] = {
    x: 0.556, y: legendTops[i], xanchor: 'left', yanchor: 'top',
    bgcolor: '#ffffff', bordercolor: INK, borderwidth: 1.5,
    font: {family: 'DejaVu Sans', size: 28, color: '#000000'},
    itemwidth: 73, tracegroupgap: 0
  };
  layout.annotations.push({
    text: depthTitles[i], xref: 'paper', yref: 'paper',
    x: 136 / 500, y: 1 - titleCenters[i] / 1428, xanchor: 'left', yanchor: 'middle',
    showarrow: false, font: {family: 'DejaVu Sans', size: 28, color: '#000000'}
  });
  layout.annotations.push({
    text: 'North (m s<sup>-1</sup>)', xref: 'paper', yref: 'paper',
    x: 38 / 500, y: 1 - ylabelCenters[i] / 1428, xanchor: 'center', yanchor: 'middle',
    textangle: -90, showarrow: false, font: {family: 'DejaVu Sans', size: 31, color: INK}
  });
});
layout.annotations.push({
  text: 'East (m s<sup>-1</sup>)', xref: 'paper', yref: 'paper',
  x: 306 / 500, y: 0, xanchor: 'center', yanchor: 'bottom', yshift: -2,
  showarrow: false, font: {family: 'DejaVu Sans', size: 31, color: INK}
});

Plotly.newPlot('chart', traces, layout, {staticPlot: true, displayModeBar: false});
</script>
</body>
</html>
